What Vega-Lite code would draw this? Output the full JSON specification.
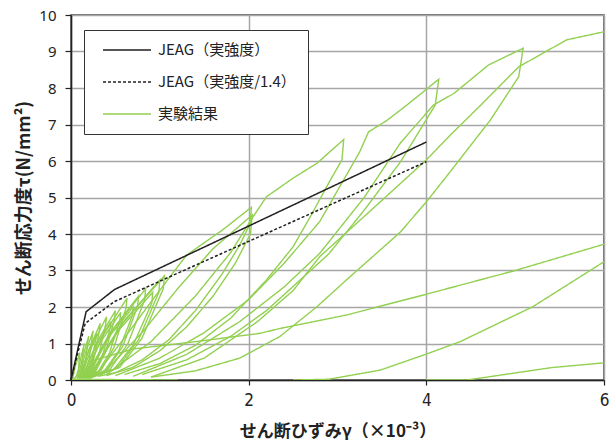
{
"$schema":"https://vega.github.io/schema/vega-lite/v6.json",
"width":533,"height":365,
"autosize":{"type":"none"},
"padding":{"left":71,"top":15,"right":12,"bottom":67},
"background":"white",
"config":{
 "view":{"stroke":"#404040","strokeWidth":1.5},
 "axis":{"domainColor":"#222","domainWidth":1.5,"tickColor":"#222","tickWidth":1.2,"labelColor":"#222","titleColor":"#222","gridColor":"#A6A6A6","gridWidth":1.5,"titleFont":"Noto Sans CJK JP","titleFontWeight":"bold","labelFlush":false,"labelOverlap":false},
 "legend":{"strokeColor":"#333","fillColor":"white","strokeWidth":1,"padding":12,"symbolType":"stroke","symbolSize":2304,"symbolStrokeWidth":1.3,"symbolOffset":6,"clipHeight":16,"labelFont":"Noto Sans CJK JP","labelFontSize":15,"labelColor":"#222","rowPadding":16,"labelOffset":6,"cornerRadius":0}
},
"data":{"values":[
{"s":"s1","t":"実験結果","i":0,"x":0.02,"y":0.05},{"s":"s1","t":"実験結果","i":1,"x":0.05,"y":0.4},{"s":"s1","t":"実験結果","i":2,"x":0.1,"y":0.75},{"s":"s1","t":"実験結果","i":3,"x":0.095,"y":0.65},{"s":"s1","t":"実験結果","i":4,"x":0.085,"y":0.3},{"s":"s1","t":"実験結果","i":5,"x":0.06,"y":0.1},{"s":"s1","t":"実験結果","i":6,"x":0.03,"y":0.03},
{"s":"s2","t":"実験結果","i":0,"x":0.07,"y":0.05},{"s":"s2","t":"実験結果","i":1,"x":0.106,"y":0.55},{"s":"s2","t":"実験結果","i":2,"x":0.15,"y":1.0},{"s":"s2","t":"実験結果","i":3,"x":0.14,"y":0.88},{"s":"s2","t":"実験結果","i":4,"x":0.126,"y":0.4},{"s":"s2","t":"実験結果","i":5,"x":0.102,"y":0.12},{"s":"s2","t":"実験結果","i":6,"x":0.07,"y":0.05},
{"s":"s3","t":"実験結果","i":0,"x":0.08,"y":0.05},{"s":"s3","t":"実験結果","i":1,"x":0.134,"y":0.66},{"s":"s3","t":"実験結果","i":2,"x":0.2,"y":1.2},{"s":"s3","t":"実験結果","i":3,"x":0.19,"y":1.06},{"s":"s3","t":"実験結果","i":4,"x":0.164,"y":0.48},{"s":"s3","t":"実験結果","i":5,"x":0.128,"y":0.14},{"s":"s3","t":"実験結果","i":6,"x":0.08,"y":0.05},
{"s":"s4","t":"実験結果","i":0,"x":0.09,"y":0.05},{"s":"s4","t":"実験結果","i":1,"x":0.162,"y":0.74},{"s":"s4","t":"実験結果","i":2,"x":0.25,"y":1.35},{"s":"s4","t":"実験結果","i":3,"x":0.24,"y":1.19},{"s":"s4","t":"実験結果","i":4,"x":0.202,"y":0.54},{"s":"s4","t":"実験結果","i":5,"x":0.154,"y":0.16},{"s":"s4","t":"実験結果","i":6,"x":0.09,"y":0.05},
{"s":"s5","t":"実験結果","i":0,"x":0.095,"y":0.05},{"s":"s5","t":"実験結果","i":1,"x":0.183,"y":0.7},{"s":"s5","t":"実験結果","i":2,"x":0.29,"y":1.28},{"s":"s5","t":"実験結果","i":3,"x":0.28,"y":1.13},{"s":"s5","t":"実験結果","i":4,"x":0.232,"y":0.51},{"s":"s5","t":"実験結果","i":5,"x":0.173,"y":0.15},{"s":"s5","t":"実験結果","i":6,"x":0.095,"y":0.05},
{"s":"s6","t":"実験結果","i":0,"x":0.1,"y":0.05},{"s":"s6","t":"実験結果","i":1,"x":0.204,"y":0.85},{"s":"s6","t":"実験結果","i":2,"x":0.33,"y":1.55},{"s":"s6","t":"実験結果","i":3,"x":0.32,"y":1.36},{"s":"s6","t":"実験結果","i":4,"x":0.261,"y":0.62},{"s":"s6","t":"実験結果","i":5,"x":0.192,"y":0.19},{"s":"s6","t":"実験結果","i":6,"x":0.1,"y":0.05},
{"s":"s7","t":"実験結果","i":0,"x":0.11,"y":0.05},{"s":"s7","t":"実験結果","i":1,"x":0.24,"y":0.95},{"s":"s7","t":"実験結果","i":2,"x":0.4,"y":1.73},{"s":"s7","t":"実験結果","i":3,"x":0.39,"y":1.52},{"s":"s7","t":"実験結果","i":4,"x":0.313,"y":0.69},{"s":"s7","t":"実験結果","i":5,"x":0.226,"y":0.21},{"s":"s7","t":"実験結果","i":6,"x":0.11,"y":0.05},
{"s":"s8","t":"実験結果","i":0,"x":0.12,"y":0.05},{"s":"s8","t":"実験結果","i":1,"x":0.269,"y":0.88},{"s":"s8","t":"実験結果","i":2,"x":0.45,"y":1.6},{"s":"s8","t":"実験結果","i":3,"x":0.44,"y":1.41},{"s":"s8","t":"実験結果","i":4,"x":0.351,"y":0.64},{"s":"s8","t":"実験結果","i":5,"x":0.252,"y":0.19},{"s":"s8","t":"実験結果","i":6,"x":0.12,"y":0.05},
{"s":"s9","t":"実験結果","i":0,"x":0.125,"y":0.05},{"s":"s9","t":"実験結果","i":1,"x":0.294,"y":1.05},{"s":"s9","t":"実験結果","i":2,"x":0.5,"y":1.9},{"s":"s9","t":"実験結果","i":3,"x":0.49,"y":1.67},{"s":"s9","t":"実験結果","i":4,"x":0.388,"y":0.76},{"s":"s9","t":"実験結果","i":5,"x":0.275,"y":0.23},{"s":"s9","t":"実験結果","i":6,"x":0.125,"y":0.05},
{"s":"s10","t":"実験結果","i":0,"x":0.135,"y":0.05},{"s":"s10","t":"実験結果","i":1,"x":0.326,"y":1.02},{"s":"s10","t":"実験結果","i":2,"x":0.56,"y":1.85},{"s":"s10","t":"実験結果","i":3,"x":0.55,"y":1.63},{"s":"s10","t":"実験結果","i":4,"x":0.433,"y":0.74},{"s":"s10","t":"実験結果","i":5,"x":0.305,"y":0.22},{"s":"s10","t":"実験結果","i":6,"x":0.135,"y":0.05},
{"s":"s11","t":"実験結果","i":0,"x":0.145,"y":0.05},{"s":"s11","t":"実験結果","i":1,"x":0.363,"y":1.23},{"s":"s11","t":"実験結果","i":2,"x":0.63,"y":2.24},{"s":"s11","t":"実験結果","i":3,"x":0.62,"y":1.97},{"s":"s11","t":"実験結果","i":4,"x":0.485,"y":0.9},{"s":"s11","t":"実験結果","i":5,"x":0.339,"y":0.27},{"s":"s11","t":"実験結果","i":6,"x":0.145,"y":0.05},
{"s":"s12","t":"実験結果","i":0,"x":0.155,"y":0.05},{"s":"s12","t":"実験結果","i":1,"x":0.4,"y":1.1},{"s":"s12","t":"実験結果","i":2,"x":0.7,"y":2.0},{"s":"s12","t":"実験結果","i":3,"x":0.69,"y":1.76},{"s":"s12","t":"実験結果","i":4,"x":0.537,"y":0.8},{"s":"s12","t":"実験結果","i":5,"x":0.373,"y":0.24},{"s":"s12","t":"実験結果","i":6,"x":0.155,"y":0.05},
{"s":"s13","t":"実験結果","i":0,"x":0.165,"y":0.05},{"s":"s13","t":"実験結果","i":1,"x":0.433,"y":1.27},{"s":"s13","t":"実験結果","i":2,"x":0.76,"y":2.3},{"s":"s13","t":"実験結果","i":3,"x":0.75,"y":2.02},{"s":"s13","t":"実験結果","i":4,"x":0.582,"y":0.92},{"s":"s13","t":"実験結果","i":5,"x":0.403,"y":0.28},{"s":"s13","t":"実験結果","i":6,"x":0.165,"y":0.05},
{"s":"s14","t":"実験結果","i":0,"x":0.175,"y":0.05},{"s":"s14","t":"実験結果","i":1,"x":0.474,"y":1.38},{"s":"s14","t":"実験結果","i":2,"x":0.84,"y":2.5},{"s":"s14","t":"実験結果","i":3,"x":0.83,"y":2.2},{"s":"s14","t":"実験結果","i":4,"x":0.641,"y":1.0},{"s":"s14","t":"実験結果","i":5,"x":0.441,"y":0.3},{"s":"s14","t":"実験結果","i":6,"x":0.175,"y":0.05},
{"s":"s15","t":"実験結果","i":0,"x":0.19,"y":0.05},{"s":"s15","t":"実験結果","i":1,"x":0.52,"y":1.32},{"s":"s15","t":"実験結果","i":2,"x":0.92,"y":2.4},{"s":"s15","t":"実験結果","i":3,"x":0.91,"y":2.11},{"s":"s15","t":"実験結果","i":4,"x":0.701,"y":0.96},{"s":"s15","t":"実験結果","i":5,"x":0.482,"y":0.29},{"s":"s15","t":"実験結果","i":6,"x":0.19,"y":0.05},
{"s":"s16","t":"実験結果","i":0,"x":0.2,"y":0.05},{"s":"s16","t":"実験結果","i":1,"x":0.56,"y":1.51},{"s":"s16","t":"実験結果","i":2,"x":1.0,"y":2.74},{"s":"s16","t":"実験結果","i":3,"x":0.99,"y":2.41},{"s":"s16","t":"実験結果","i":4,"x":0.76,"y":1.1},{"s":"s16","t":"実験結果","i":5,"x":0.52,"y":0.33},{"s":"s16","t":"実験結果","i":6,"x":0.2,"y":0.05},
{"s":"s17","t":"実験結果","i":0,"x":0.21,"y":0.05},{"s":"s17","t":"実験結果","i":1,"x":0.588,"y":1.57},{"s":"s17","t":"実験結果","i":2,"x":1.05,"y":2.85},{"s":"s17","t":"実験結果","i":3,"x":1.04,"y":2.51},{"s":"s17","t":"実験結果","i":4,"x":0.798,"y":1.14},{"s":"s17","t":"実験結果","i":5,"x":0.546,"y":0.34},{"s":"s17","t":"実験結果","i":6,"x":0.21,"y":0.05},
{"s":"c1a","t":"実験結果","i":0,"x":0.3,"y":0.2},{"s":"c1a","t":"実験結果","i":1,"x":0.6,"y":1.15},{"s":"c1a","t":"実験結果","i":2,"x":0.95,"y":2.3},{"s":"c1a","t":"実験結果","i":3,"x":1.3,"y":3.42},{"s":"c1a","t":"実験結果","i":4,"x":1.7,"y":4.1},{"s":"c1a","t":"実験結果","i":5,"x":2.03,"y":4.73},{"s":"c1a","t":"実験結果","i":6,"x":2.02,"y":4.3},{"s":"c1a","t":"実験結果","i":7,"x":1.9,"y":3.7},{"s":"c1a","t":"実験結果","i":8,"x":1.7,"y":2.9},{"s":"c1a","t":"実験結果","i":9,"x":1.4,"y":1.9},{"s":"c1a","t":"実験結果","i":10,"x":1.1,"y":1.1},{"s":"c1a","t":"実験結果","i":11,"x":0.8,"y":0.55},{"s":"c1a","t":"実験結果","i":12,"x":0.5,"y":0.2},{"s":"c1a","t":"実験結果","i":13,"x":0.3,"y":0.1},
{"s":"c1b","t":"実験結果","i":0,"x":0.35,"y":0.15},{"s":"c1b","t":"実験結果","i":1,"x":0.8,"y":1.3},{"s":"c1b","t":"実験結果","i":2,"x":1.2,"y":2.5},{"s":"c1b","t":"実験結果","i":3,"x":1.6,"y":3.6},{"s":"c1b","t":"実験結果","i":4,"x":2.04,"y":4.52},{"s":"c1b","t":"実験結果","i":5,"x":2.02,"y":4.0},{"s":"c1b","t":"実験結果","i":6,"x":1.85,"y":3.2},{"s":"c1b","t":"実験結果","i":7,"x":1.6,"y":2.3},{"s":"c1b","t":"実験結果","i":8,"x":1.3,"y":1.45},{"s":"c1b","t":"実験結果","i":9,"x":1.0,"y":0.8},{"s":"c1b","t":"実験結果","i":10,"x":0.7,"y":0.35},{"s":"c1b","t":"実験結果","i":11,"x":0.4,"y":0.12},
{"s":"c2","t":"実験結果","i":0,"x":0.4,"y":0.15},{"s":"c2","t":"実験結果","i":1,"x":0.9,"y":1.05},{"s":"c2","t":"実験結果","i":2,"x":1.4,"y":2.3},{"s":"c2","t":"実験結果","i":3,"x":1.8,"y":3.5},{"s":"c2","t":"実験結果","i":4,"x":2.03,"y":4.4},{"s":"c2","t":"実験結果","i":5,"x":2.2,"y":5.02},{"s":"c2","t":"実験結果","i":6,"x":2.5,"y":5.53},{"s":"c2","t":"実験結果","i":7,"x":2.77,"y":5.94},{"s":"c2","t":"実験結果","i":8,"x":3.07,"y":6.59},{"s":"c2","t":"実験結果","i":9,"x":3.05,"y":6.03},{"s":"c2","t":"実験結果","i":10,"x":2.92,"y":5.48},{"s":"c2","t":"実験結果","i":11,"x":2.7,"y":4.5},{"s":"c2","t":"実験結果","i":12,"x":2.5,"y":3.65},{"s":"c2","t":"実験結果","i":13,"x":2.2,"y":2.74},{"s":"c2","t":"実験結果","i":14,"x":1.8,"y":1.7},{"s":"c2","t":"実験結果","i":15,"x":1.4,"y":0.95},{"s":"c2","t":"実験結果","i":16,"x":1.0,"y":0.45},{"s":"c2","t":"実験結果","i":17,"x":0.6,"y":0.15},
{"s":"c3","t":"実験結果","i":0,"x":0.5,"y":0.12},{"s":"c3","t":"実験結果","i":1,"x":1.0,"y":0.6},{"s":"c3","t":"実験結果","i":2,"x":1.5,"y":1.3},{"s":"c3","t":"実験結果","i":3,"x":2.0,"y":2.2},{"s":"c3","t":"実験結果","i":4,"x":2.4,"y":3.2},{"s":"c3","t":"実験結果","i":5,"x":2.8,"y":4.34},{"s":"c3","t":"実験結果","i":6,"x":3.25,"y":6.25},{"s":"c3","t":"実験結果","i":7,"x":3.35,"y":6.8},{"s":"c3","t":"実験結果","i":8,"x":3.55,"y":7.1},{"s":"c3","t":"実験結果","i":9,"x":3.78,"y":7.53},{"s":"c3","t":"実験結果","i":10,"x":4.14,"y":8.24},{"s":"c3","t":"実験結果","i":11,"x":4.1,"y":7.53},{"s":"c3","t":"実験結果","i":12,"x":3.71,"y":5.98},{"s":"c3","t":"実験結果","i":13,"x":3.3,"y":4.65},{"s":"c3","t":"実験結果","i":14,"x":2.9,"y":3.45},{"s":"c3","t":"実験結果","i":15,"x":2.58,"y":2.74},{"s":"c3","t":"実験結果","i":16,"x":2.2,"y":1.9},{"s":"c3","t":"実験結果","i":17,"x":1.8,"y":1.2},{"s":"c3","t":"実験結果","i":18,"x":1.3,"y":0.55},{"s":"c3","t":"実験結果","i":19,"x":0.8,"y":0.15},
{"s":"c4","t":"実験結果","i":0,"x":0.7,"y":0.1},{"s":"c4","t":"実験結果","i":1,"x":1.3,"y":0.7},{"s":"c4","t":"実験結果","i":2,"x":1.9,"y":1.6},{"s":"c4","t":"実験結果","i":3,"x":2.4,"y":2.55},{"s":"c4","t":"実験結果","i":4,"x":2.8,"y":3.47},{"s":"c4","t":"実験結果","i":5,"x":3.3,"y":5.0},{"s":"c4","t":"実験結果","i":6,"x":3.71,"y":6.5},{"s":"c4","t":"実験結果","i":7,"x":4.08,"y":7.53},{"s":"c4","t":"実験結果","i":8,"x":4.31,"y":7.85},{"s":"c4","t":"実験結果","i":9,"x":4.7,"y":8.63},{"s":"c4","t":"実験結果","i":10,"x":5.09,"y":9.09},{"s":"c4","t":"実験結果","i":11,"x":5.04,"y":8.31},{"s":"c4","t":"実験結果","i":12,"x":4.72,"y":7.12},{"s":"c4","t":"実験結果","i":13,"x":4.27,"y":5.71},{"s":"c4","t":"実験結果","i":14,"x":4.0,"y":4.88},{"s":"c4","t":"実験結果","i":15,"x":3.71,"y":4.06},{"s":"c4","t":"実験結果","i":16,"x":3.48,"y":3.56},{"s":"c4","t":"実験結果","i":17,"x":3.1,"y":2.74},{"s":"c4","t":"実験結果","i":18,"x":2.77,"y":2.01},{"s":"c4","t":"実験結果","i":19,"x":2.35,"y":1.19},{"s":"c4","t":"実験結果","i":20,"x":1.9,"y":0.6},{"s":"c4","t":"実験結果","i":21,"x":1.4,"y":0.25},{"s":"c4","t":"実験結果","i":22,"x":0.9,"y":0.08},
{"s":"c5","t":"実験結果","i":0,"x":0.9,"y":0.08},{"s":"c5","t":"実験結果","i":1,"x":1.5,"y":0.6},{"s":"c5","t":"実験結果","i":2,"x":2.1,"y":1.6},{"s":"c5","t":"実験結果","i":3,"x":2.5,"y":2.45},{"s":"c5","t":"実験結果","i":4,"x":2.8,"y":3.38},{"s":"c5","t":"実験結果","i":5,"x":3.4,"y":4.7},{"s":"c5","t":"実験結果","i":6,"x":4.0,"y":6.03},{"s":"c5","t":"実験結果","i":7,"x":4.27,"y":6.71},{"s":"c5","t":"実験結果","i":8,"x":4.6,"y":7.5},{"s":"c5","t":"実験結果","i":9,"x":5.04,"y":8.58},{"s":"c5","t":"実験結果","i":10,"x":5.58,"y":9.32},{"s":"c5","t":"実験結果","i":11,"x":6.0,"y":9.54},
{"s":"la","t":"実験結果","i":0,"x":0.2,"y":0.5},{"s":"la","t":"実験結果","i":1,"x":0.7,"y":0.85},{"s":"la","t":"実験結果","i":2,"x":1.4,"y":1.05},{"s":"la","t":"実験結果","i":3,"x":2.13,"y":1.28},{"s":"la","t":"実験結果","i":4,"x":2.35,"y":1.41},{"s":"la","t":"実験結果","i":5,"x":3.1,"y":1.78},{"s":"la","t":"実験結果","i":6,"x":4.0,"y":2.35},{"s":"la","t":"実験結果","i":7,"x":5.0,"y":3.0},{"s":"la","t":"実験結果","i":8,"x":6.0,"y":3.72},
{"s":"lb","t":"実験結果","i":0,"x":2.5,"y":0.0},{"s":"lb","t":"実験結果","i":1,"x":2.9,"y":0.02},{"s":"lb","t":"実験結果","i":2,"x":3.48,"y":0.27},{"s":"lb","t":"実験結果","i":3,"x":4.0,"y":0.71},{"s":"lb","t":"実験結果","i":4,"x":4.38,"y":1.05},{"s":"lb","t":"実験結果","i":5,"x":5.2,"y":2.01},{"s":"lb","t":"実験結果","i":6,"x":6.0,"y":3.24},
{"s":"lc","t":"実験結果","i":0,"x":4.0,"y":0.0},{"s":"lc","t":"実験結果","i":1,"x":4.46,"y":0.0},{"s":"lc","t":"実験結果","i":2,"x":5.41,"y":0.34},{"s":"lc","t":"実験結果","i":3,"x":6.0,"y":0.47},
{"s":"ld","t":"実験結果","i":0,"x":0.0,"y":0.02},{"s":"ld","t":"実験結果","i":1,"x":0.6,"y":0.01},{"s":"ld","t":"実験結果","i":2,"x":1.2,"y":0.0},
{"s":"j1","t":"JEAG（実強度）","i":0,"x":0,"y":0},{"s":"j1","t":"JEAG（実強度）","i":1,"x":0.17,"y":1.87},{"s":"j1","t":"JEAG（実強度）","i":2,"x":0.49,"y":2.48},{"s":"j1","t":"JEAG（実強度）","i":3,"x":4.0,"y":6.52},
{"s":"j2","t":"JEAG（実強度/1.4）","i":0,"x":0,"y":0},{"s":"j2","t":"JEAG（実強度/1.4）","i":1,"x":0.16,"y":1.55},{"s":"j2","t":"JEAG（実強度/1.4）","i":2,"x":0.49,"y":2.15},{"s":"j2","t":"JEAG（実強度/1.4）","i":3,"x":4.0,"y":5.98}
]},
"encoding":{
 "x":{"field":"x","type":"quantitative","scale":{"domain":[0,6],"nice":false,"zero":false},
  "axis":{"values":[0,2,4,6],"tickSize":5,"labelFont":"DejaVu Sans Condensed, Liberation Sans Narrow, Noto Sans","labelFontSize":17,"labelPadding":7,"title":"せん断ひずみγ（×10⁻³）","titleFontSize":17,"titlePadding":15,"grid":true}},
 "y":{"field":"y","type":"quantitative","scale":{"domain":[0,10],"nice":false},
  "axis":{"values":[0,1,2,3,4,5,6,7,8,9,10],"tickSize":6,"labelFont":"Noto Sans","labelFontSize":15,"labelPadding":9,"title":"せん断応力度τ(N/mm²)","titleFontSize":18,"titlePadding":5,"grid":true}},
 "order":{"field":"i","type":"quantitative"},
 "detail":{"field":"s","type":"nominal"},
 "color":{"field":"t","type":"nominal","scale":{"domain":["JEAG（実強度）","JEAG（実強度/1.4）","実験結果"],"range":["#231F20","#231F20","#92D050"]},
  "legend":{"title":null,"orient":"none","legendX":13,"legendY":15}},
 "strokeDash":{"field":"t","type":"nominal","scale":{"domain":["JEAG（実強度）","JEAG（実強度/1.4）","実験結果"],"range":[[1,0],[3,2],[1,0]]},
  "legend":{"title":null,"orient":"none","legendX":13,"legendY":15}}
},
"layer":[
 {"transform":[{"filter":"datum.t==='実験結果'"}],"mark":{"type":"line","strokeWidth":1.4,"clip":true}},
 {"transform":[{"filter":"datum.t!=='実験結果'"}],"mark":{"type":"line","strokeWidth":1.5}}
]
}
